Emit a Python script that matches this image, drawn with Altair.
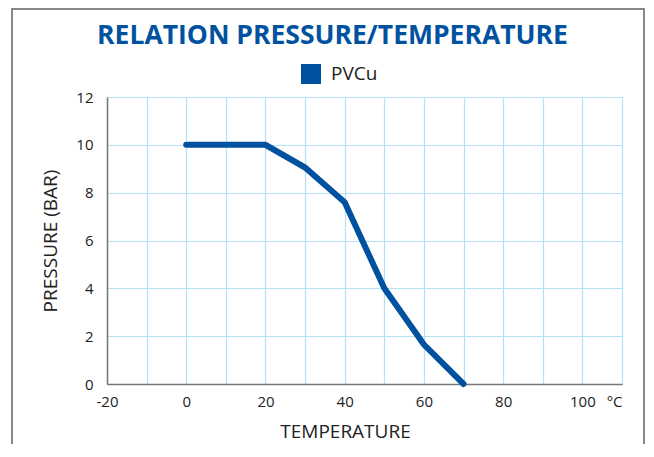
import altair as alt
import pandas as pd

temperature = [0, 20, 30, 40, 50, 60, 70]
pressure = [10, 10, 9.05, 7.6, 4.0, 1.65, 0]
series = ["PVCu"] * len(temperature)

x_ticks = list(range(-20, 111, 10))
y_ticks = list(range(0, 13, 2))

df = pd.DataFrame({"T": temperature, "P": pressure, "s": series})

BLUE = "#0052a0"
GRID = "#b5e1f6"
FONT = "Open Sans"

line = alt.Chart(df).mark_line(
    color=BLUE, strokeWidth=6, strokeCap="round", strokeJoin="miter"
).encode(
    x=alt.X(
        "T:Q",
        scale=alt.Scale(domain=[-20, 110], nice=False, zero=False),
        axis=alt.Axis(
            values=x_ticks,
            title="TEMPERATURE",
            titleX=238,
            titleY=38,
            titleAlign="center",
            titleBaseline="top",
            labelExpr="datum.value == 110 ? '°C' : (datum.value % 20 == 0 ? toString(datum.value) : '')",
            labelAlign=alt.condition("datum.value == 110", alt.value("right"), alt.value("center")),
            labelFlush=False,
            labelPadding=10,
        ),
    ),
    y=alt.Y(
        "P:Q",
        scale=alt.Scale(domain=[0, 12], nice=False),
        axis=alt.Axis(
            values=y_ticks,
            title="PRESSURE (BAR)",
            titlePadding=15,
            labelPadding=14,
        ),
    ),
    color=alt.Color(
        "s:N",
        scale=alt.Scale(range=[BLUE]),
        legend=alt.Legend(
            title=None,
            orient="none",
            legendX=194,
            legendY=-33,
            symbolType="square",
            symbolSize=400,
            symbolFillColor=BLUE,
            symbolStrokeColor=BLUE,
            symbolStrokeWidth=0,
            labelFontSize=19,
            labelFont=FONT,
            labelColor="#222222",
            labelOffset=10,
        ),
    ),
)

border = alt.Chart(df).mark_rect(
    fill=None, stroke="#888888", strokeWidth=2
).encode(
    x=alt.value(-95), x2=alt.value(537), y=alt.value(-88), y2=alt.value(400)
)

chart = alt.layer(border, line).properties(
    width=515,
    height=287,
    autosize=alt.AutoSizeParams(type="none"),
    padding={"left": 99, "top": 89, "right": 24, "bottom": 60},
    title=alt.TitleParams(
        "RELATION PRESSURE/TEMPERATURE",
        font=FONT,
        fontSize=26.5,
        fontWeight="bold",
        color=BLUE,
        anchor="middle",
        frame="group",
        dx=-32,
        offset=-41,
    ),
).configure_view(stroke=None).configure_axis(
    gridColor=GRID,
    gridWidth=1.2,
    domainColor="#777777",
    domainWidth=1.5,
    ticks=False,
    labelFont=FONT,
    labelFontSize=15,
    labelColor="#222222",
    titleFont=FONT,
    titleFontSize=19,
    titleFontWeight="normal",
    titleColor="#222222",
)

chart.save("out.html", embed_options={"renderer": "svg", "actions": False})
